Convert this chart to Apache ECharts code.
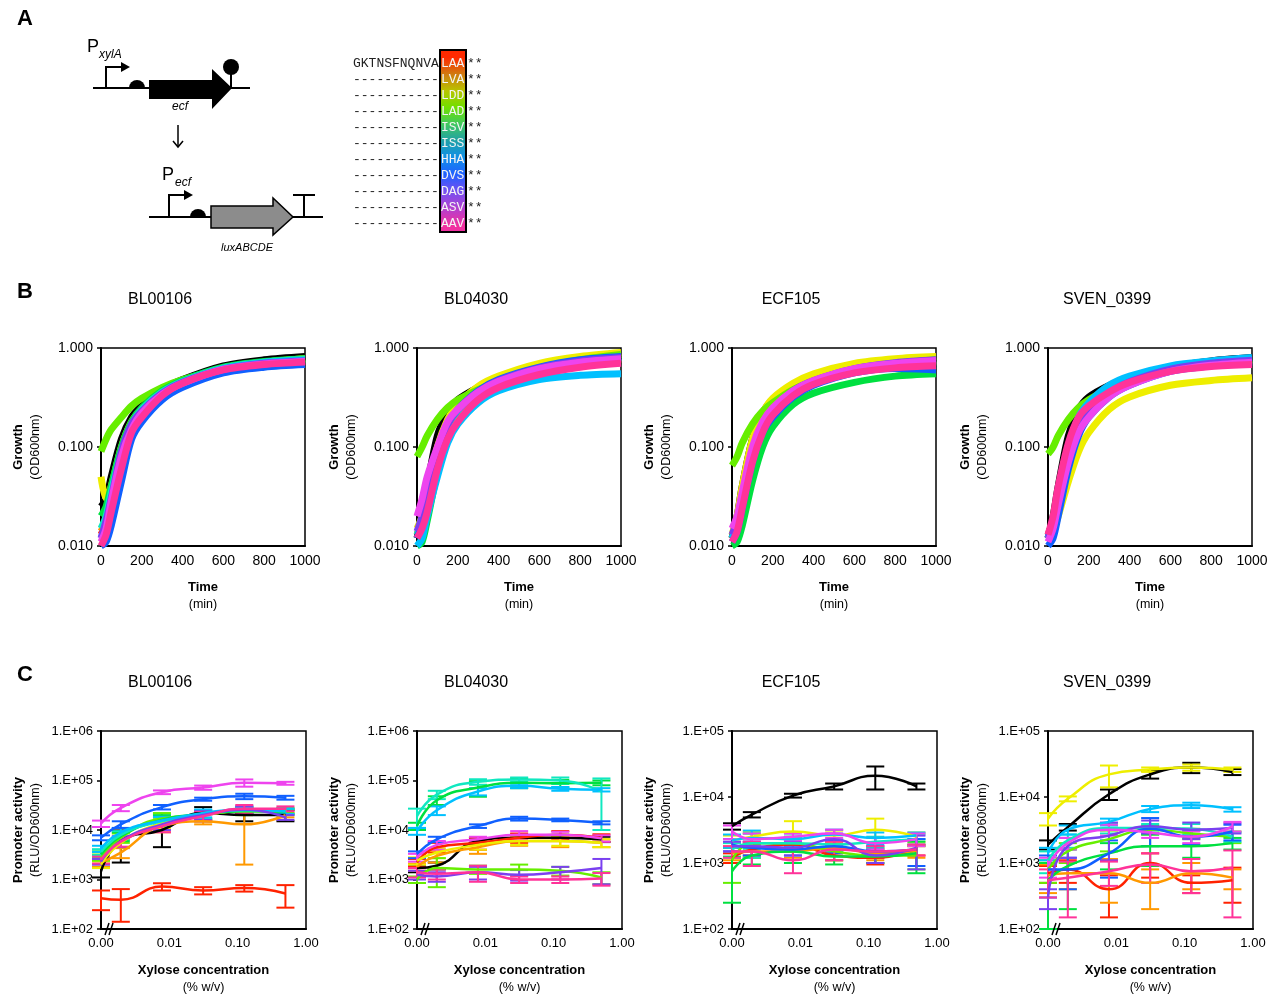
<!DOCTYPE html>
<html>
<head>
<meta charset="utf-8">
<script src="https://cdn.jsdelivr.net/npm/echarts@6/dist/echarts.min.js"></script>
<style>
html, body { margin: 0; padding: 0; background: #fff; }
#main { width: 1273px; height: 996px; }
</style>
</head>
<body>
<div id="main"></div>
<script>
// ---- data ----
var variants = ['none', 'LAA', 'LVA', 'LDD', 'LAD', 'ISV', 'ISS', 'HHA', 'DVS', 'DAG', 'ASV', 'AAV'];
var colors = ['#000000', '#ff2200', '#ff9900', '#eeee00', '#66ee00', '#00e040', '#10e8c0', '#00c0ff', '#1060ff', '#7a40f0', '#ee44ee', '#ff3399'];
var sigmas = ['BL00106', 'BL04030', 'ECF105', 'SVEN_0399'];
var tags = ['LAA', 'LVA', 'LDD', 'LAD', 'ISV', 'ISS', 'HHA', 'DVS', 'DAG', 'ASV', 'AAV'];
var tagColors = ['#ff2a00', '#d07a10', '#b8c400', '#70e000', '#40c860', '#20a0a8', '#1090e8', '#2060ff', '#7450f0', '#b040d0', '#f030a0'];

// growth curves (OD600), time in min
var tGrowth = [0, 25, 50, 100, 150, 200, 300, 400, 600, 800, 1000];
var growthBL00106 = [
  [0.025, 0.03, 0.05, 0.12, 0.2, 0.26, 0.38, 0.48, 0.66, 0.76, 0.82],
  [0.013, 0.017, 0.03, 0.085, 0.16, 0.22, 0.35, 0.45, 0.62, 0.7, 0.74],
  [0.014, 0.018, 0.032, 0.088, 0.165, 0.225, 0.355, 0.455, 0.62, 0.71, 0.75],
  [0.05, 0.03, 0.04, 0.1, 0.18, 0.24, 0.36, 0.46, 0.63, 0.72, 0.78],
  [0.09, 0.12, 0.15, 0.2, 0.26, 0.31, 0.4, 0.48, 0.62, 0.72, 0.78],
  [0.02, 0.025, 0.04, 0.1, 0.18, 0.25, 0.37, 0.47, 0.64, 0.73, 0.78],
  [0.015, 0.02, 0.035, 0.09, 0.17, 0.24, 0.36, 0.46, 0.63, 0.72, 0.77],
  [0.012, 0.016, 0.03, 0.08, 0.16, 0.23, 0.35, 0.45, 0.62, 0.71, 0.75],
  [0.010, 0.011, 0.016, 0.045, 0.12, 0.18, 0.3, 0.4, 0.56, 0.64, 0.68],
  [0.012, 0.018, 0.03, 0.09, 0.17, 0.23, 0.35, 0.45, 0.61, 0.7, 0.74],
  [0.011, 0.015, 0.028, 0.08, 0.15, 0.22, 0.34, 0.44, 0.61, 0.69, 0.73],
  [0.010, 0.013, 0.022, 0.06, 0.14, 0.2, 0.33, 0.44, 0.6, 0.68, 0.72]
];
var growthBL04030 = [
  [0.012, 0.02, 0.04, 0.13, 0.22, 0.3, 0.4, 0.5, 0.66, 0.78, 0.84],
  [0.013, 0.018, 0.032, 0.085, 0.165, 0.235, 0.355, 0.46, 0.62, 0.72, 0.78],
  [0.013, 0.017, 0.03, 0.08, 0.16, 0.23, 0.35, 0.45, 0.61, 0.71, 0.76],
  [0.015, 0.02, 0.035, 0.1, 0.19, 0.27, 0.41, 0.52, 0.7, 0.82, 0.9],
  [0.08, 0.1, 0.13, 0.19, 0.25, 0.3, 0.38, 0.46, 0.62, 0.76, 0.86],
  [0.01, 0.011, 0.018, 0.055, 0.12, 0.19, 0.32, 0.43, 0.6, 0.72, 0.8],
  [0.013, 0.018, 0.03, 0.085, 0.16, 0.23, 0.35, 0.46, 0.62, 0.74, 0.8],
  [0.01, 0.012, 0.02, 0.05, 0.11, 0.17, 0.28, 0.37, 0.48, 0.53, 0.55],
  [0.012, 0.017, 0.03, 0.09, 0.17, 0.24, 0.37, 0.48, 0.64, 0.76, 0.82],
  [0.014, 0.02, 0.035, 0.09, 0.17, 0.24, 0.36, 0.47, 0.63, 0.74, 0.8],
  [0.02, 0.03, 0.05, 0.1, 0.18, 0.24, 0.36, 0.46, 0.62, 0.72, 0.78],
  [0.012, 0.015, 0.022, 0.06, 0.12, 0.18, 0.3, 0.4, 0.54, 0.64, 0.7]
];
var growthECF105 = [
  [0.012, 0.02, 0.04, 0.12, 0.22, 0.3, 0.4, 0.5, 0.64, 0.72, 0.78],
  [0.012, 0.017, 0.03, 0.085, 0.16, 0.23, 0.35, 0.45, 0.6, 0.69, 0.73],
  [0.012, 0.016, 0.029, 0.082, 0.16, 0.225, 0.35, 0.45, 0.6, 0.68, 0.72],
  [0.013, 0.02, 0.04, 0.12, 0.22, 0.31, 0.44, 0.55, 0.7, 0.78, 0.82],
  [0.065, 0.08, 0.11, 0.17, 0.23, 0.28, 0.38, 0.46, 0.6, 0.7, 0.76],
  [0.01, 0.011, 0.016, 0.045, 0.1, 0.16, 0.27, 0.35, 0.45, 0.52, 0.55],
  [0.012, 0.017, 0.03, 0.085, 0.165, 0.23, 0.36, 0.46, 0.61, 0.7, 0.74],
  [0.012, 0.016, 0.028, 0.08, 0.16, 0.22, 0.35, 0.45, 0.6, 0.68, 0.72],
  [0.011, 0.014, 0.024, 0.07, 0.14, 0.2, 0.32, 0.42, 0.56, 0.62, 0.6],
  [0.013, 0.018, 0.032, 0.09, 0.17, 0.24, 0.37, 0.47, 0.62, 0.71, 0.76],
  [0.015, 0.02, 0.035, 0.1, 0.18, 0.25, 0.37, 0.47, 0.62, 0.7, 0.75],
  [0.011, 0.014, 0.024, 0.07, 0.14, 0.21, 0.33, 0.43, 0.56, 0.63, 0.66]
];
var growthSVEN0399 = [
  [0.012, 0.02, 0.04, 0.13, 0.24, 0.32, 0.42, 0.5, 0.64, 0.74, 0.8],
  [0.013, 0.018, 0.032, 0.09, 0.17, 0.24, 0.36, 0.46, 0.62, 0.71, 0.76],
  [0.012, 0.017, 0.03, 0.085, 0.165, 0.235, 0.355, 0.455, 0.61, 0.7, 0.75],
  [0.012, 0.014, 0.02, 0.045, 0.09, 0.14, 0.24, 0.32, 0.42, 0.47, 0.5],
  [0.085, 0.1, 0.13, 0.19, 0.25, 0.3, 0.39, 0.47, 0.6, 0.7, 0.76],
  [0.012, 0.016, 0.028, 0.08, 0.16, 0.23, 0.35, 0.45, 0.6, 0.7, 0.76],
  [0.012, 0.017, 0.03, 0.085, 0.17, 0.24, 0.36, 0.46, 0.61, 0.71, 0.76],
  [0.012, 0.018, 0.032, 0.1, 0.2, 0.28, 0.42, 0.52, 0.66, 0.74, 0.8],
  [0.01, 0.012, 0.02, 0.06, 0.13, 0.2, 0.32, 0.42, 0.58, 0.66, 0.72],
  [0.012, 0.017, 0.03, 0.085, 0.165, 0.235, 0.355, 0.455, 0.61, 0.7, 0.75],
  [0.011, 0.015, 0.026, 0.07, 0.14, 0.2, 0.32, 0.42, 0.58, 0.67, 0.72],
  [0.013, 0.02, 0.04, 0.11, 0.2, 0.26, 0.36, 0.45, 0.58, 0.65, 0.68]
];

// promoter activity (RLU/OD600), xylose % w/v (0 plotted at 0.001)
var xylose = [0.001, 0.00195, 0.0078, 0.03125, 0.125, 0.5];
var actBL00106 = [
  [1450, 6000, 10000, 22000, 20000, 20000],
  [420, 390, 720, 600, 670, 520],
  [2200, 3500, 12000, 15000, 13000, 20000],
  [2000, 5500, 14000, 20000, 24000, 24000],
  [2800, 7000, 17000, 20000, 25000, 25000],
  [3200, 7500, 16000, 21000, 24000, 23000],
  [3600, 8000, 15000, 21000, 25000, 24000],
  [4200, 9000, 15500, 22000, 26000, 24000],
  [7000, 13000, 29000, 42000, 48000, 45000],
  [2300, 6000, 13000, 20000, 26000, 18000],
  [13500, 28000, 58000, 72000, 90000, 88000],
  [2500, 5800, 12000, 19000, 27000, 27000]
];
var errBL00106 = [
  [350, 3800, 5500, 7000, 5000, 5000],
  [180, 250, 120, 100, 100, 250],
  [400, 800, 3000, 2000, 11000, 2000],
  [300, 1000, 3000, 4000, 4000, 3000],
  [400, 1500, 5000, 4000, 4000, 3000],
  [500, 1500, 4000, 4000, 4000, 3000],
  [500, 1500, 3000, 4000, 4000, 3000],
  [600, 2000, 3000, 4000, 4000, 3000],
  [800, 2000, 3000, 3000, 6000, 4000],
  [300, 1500, 3000, 4000, 4000, 2000],
  [2000, 4000, 5000, 7000, 15000, 6000],
  [400, 1200, 3000, 4000, 5000, 3000]
];
var actBL04030 = [
  [1700, 1900, 6000, 7000, 7000, 6500],
  [2200, 4500, 5500, 7000, 8000, 7000],
  [1800, 3000, 4500, 6000, 6000, 5500],
  [2400, 3500, 5000, 6000, 6000, 5500],
  [1000, 1700, 1600, 1600, 1500, 1100],
  [12000, 40000, 72000, 90000, 88000, 90000],
  [19000, 52000, 94000, 105000, 100000, 60000],
  [9500, 25000, 60000, 78000, 68000, 65000],
  [3200, 6500, 12000, 17000, 16000, 14000],
  [1250, 1150, 1400, 1250, 1400, 1700],
  [2800, 5000, 6500, 8000, 8000, 6800],
  [1400, 1300, 1400, 1000, 1000, 1050]
];
var errBL04030 = [
  [300, 300, 1000, 1000, 1000, 800],
  [400, 1000, 1500, 1500, 1500, 1200],
  [300, 800, 1200, 1200, 1500, 1000],
  [400, 800, 1000, 1000, 1200, 1000],
  [150, 1000, 300, 400, 300, 300],
  [2000, 8000, 25000, 20000, 15000, 10000],
  [8000, 10000, 12000, 10000, 15000, 50000],
  [1500, 5000, 10000, 8000, 6000, 5000],
  [500, 800, 1000, 1500, 1000, 1000],
  [250, 250, 400, 300, 400, 900],
  [500, 1000, 800, 1500, 1200, 1000],
  [300, 300, 500, 150, 150, 300]
];
var actECF105 = [
  [3600, 5400, 10500, 14500, 21000, 14500],
  [1200, 1600, 1900, 1300, 1200, 1600],
  [1400, 1500, 1500, 1700, 1400, 1500],
  [2200, 2500, 3000, 2600, 3200, 2500],
  [1100, 2000, 2000, 1500, 1300, 1300],
  [750, 1300, 1500, 1250, 1250, 1400],
  [1600, 2000, 2000, 1900, 2100, 2300],
  [2200, 2400, 2300, 2700, 2400, 2600],
  [1900, 1700, 1600, 1800, 1500, 1600],
  [1800, 1800, 1700, 2300, 1300, 1700],
  [3000, 2300, 2500, 2800, 2000, 2300],
  [1500, 1500, 1100, 1600, 1500, 1600]
];
var errECF105 = [
  [400, 500, 700, 1500, 8000, 1500],
  [200, 300, 300, 200, 250, 300],
  [300, 300, 300, 300, 300, 300],
  [400, 500, 1300, 500, 1500, 400],
  [600, 800, 500, 400, 300, 500],
  [500, 350, 500, 300, 250, 700],
  [400, 800, 500, 400, 400, 400],
  [500, 700, 500, 500, 500, 300],
  [400, 400, 300, 400, 300, 700],
  [300, 300, 400, 500, 300, 900],
  [700, 500, 300, 400, 400, 500],
  [300, 600, 400, 500, 300, 300]
];
var actSVEN0399 = [
  [1900, 3500, 11000, 22000, 28000, 24000],
  [700, 800, 400, 1000, 500, 550],
  [650, 700, 700, 500, 700, 600],
  [4700, 9400, 22000, 26000, 28000, 26000],
  [800, 1500, 2300, 3200, 2800, 2500],
  [550, 900, 1400, 1800, 1800, 2000],
  [1100, 2200, 3400, 3400, 3300, 2500],
  [1400, 3200, 4200, 6600, 7500, 6500],
  [800, 800, 1400, 3300, 2500, 3000],
  [300, 1800, 2600, 3600, 3200, 3400],
  [900, 2000, 3200, 2900, 2500, 3600],
  [550, 600, 750, 950, 750, 850]
];
var errSVEN0399 = [
  [300, 400, 2000, 3000, 5000, 2500],
  [200, 300, 250, 400, 150, 300],
  [300, 300, 450, 300, 300, 200],
  [1000, 800, 8000, 2000, 3000, 2000],
  [300, 500, 800, 500, 500, 500],
  [450, 700, 600, 900, 600, 400],
  [400, 500, 600, 500, 600, 400],
  [300, 500, 500, 700, 700, 500],
  [500, 400, 800, 1500, 600, 800],
  [100, 600, 1500, 800, 900, 600],
  [300, 400, 600, 500, 500, 600],
  [250, 450, 300, 450, 400, 700]
];
var actMax = [1e6, 1e6, 1e5, 1e5];

var growthSets = [growthBL00106, growthBL04030, growthECF105, growthSVEN0399];
var actSets = [actBL00106, actBL04030, actECF105, actSVEN0399];
var errSets = [errBL00106, errBL04030, errECF105, errSVEN0399];

// ---- layout ----
var FONT = 'Liberation Sans, Arial, sans-serif';
var lefts = [101, 417, 732, 1048];
var chart = echarts.init(document.getElementById('main'), null, { renderer: 'canvas' });

var grids = [], xAxes = [], yAxes = [], series = [], graphics = [];

function nameRich() {
  return {
    b: { fontFamily: FONT, fontWeight: 'bold', fontSize: 13, color: '#000', lineHeight: 17 },
    n: { fontFamily: FONT, fontSize: 12.5, color: '#000', lineHeight: 17 }
  };
}

function expLabel(v) {
  var e = Math.round(Math.log10(v));
  return '1.E+' + (e < 10 ? '0' : '') + e;
}

function errorBars(color, minY) {
  return function (params, api) {
    var x = api.value(0);
    var lo = Math.max(api.value(1), minY);
    var p1 = api.coord([x, lo]);
    var p2 = api.coord([x, api.value(2)]);
    var w = 9;
    var st = { stroke: color, lineWidth: 2 };
    return {
      type: 'group',
      children: [
        { type: 'line', shape: { x1: p1[0], y1: p1[1], x2: p2[0], y2: p2[1] }, style: st },
        { type: 'line', shape: { x1: p1[0] - w, y1: p1[1], x2: p1[0] + w, y2: p1[1] }, style: st },
        { type: 'line', shape: { x1: p2[0] - w, y1: p2[1], x2: p2[0] + w, y2: p2[1] }, style: st }
      ]
    };
  };
}

var axisLineStyle = { show: true, onZero: false, lineStyle: { color: '#000', width: 2 } };

for (var i = 0; i < 4; i++) {
  // panel B: growth
  grids.push({ left: lefts[i], top: 348, width: 204, height: 198, show: true, borderColor: '#000', borderWidth: 1.5 });
  xAxes.push({
    type: 'value', gridIndex: i, min: 0, max: 1000, interval: 200,
    axisLine: axisLineStyle, axisTick: { show: false }, splitLine: { show: false },
    axisLabel: { color: '#000', fontSize: 14, fontFamily: FONT, margin: 8, formatter: function (v) { return String(v); } },
    name: '{b|Time}\n{n|(min)}', nameLocation: 'middle', nameGap: 33,
    nameTextStyle: { rich: nameRich() }
  });
  yAxes.push({
    type: 'log', logBase: 10, gridIndex: i, min: 0.01, max: 1,
    axisLine: axisLineStyle, axisTick: { show: true, length: 4, lineStyle: { color: '#000', width: 1.5 } },
    splitLine: { show: false }, minorTick: { show: false },
    axisLabel: { color: '#000', fontSize: 14, fontFamily: FONT, margin: 8, formatter: function (v) { return v.toFixed(3); } },
    name: '{b|Growth}\n{n|(OD600nm)}', nameLocation: 'middle', nameRotate: 90, nameGap: 57,
    nameTextStyle: { rich: nameRich() }
  });
  var gset = growthSets[i];
  for (var s = 0; s < gset.length; s++) {
    series.push({
      type: 'line', xAxisIndex: i, yAxisIndex: i, name: variants[s],
      data: tGrowth.map(function (t, k) { return [t, this[k]]; }, gset[s]),
      showSymbol: false, smooth: 0.3, silent: true,
      lineStyle: { color: colors[s], width: 7 }, itemStyle: { color: colors[s] }
    });
  }
}

for (var j = 0; j < 4; j++) {
  var gi = 4 + j;
  grids.push({ left: lefts[j], top: 731, width: 205, height: 198, show: true, borderColor: '#000', borderWidth: 1.5 });
  xAxes.push({
    type: 'log', logBase: 10, gridIndex: gi, min: 0.001, max: 1,
    axisLine: axisLineStyle, axisTick: { show: false }, splitLine: { show: false }, minorTick: { show: false },
    axisLabel: { color: '#000', fontSize: 13, fontFamily: FONT, margin: 8, formatter: function (v) { return v.toFixed(2); } },
    name: '{b|Xylose concentration}\n{n|(% w/v)}', nameLocation: 'middle', nameGap: 33,
    nameTextStyle: { rich: nameRich() }
  });
  yAxes.push({
    type: 'log', logBase: 10, gridIndex: gi, min: 100, max: actMax[j],
    axisLine: axisLineStyle, axisTick: { show: true, length: 4, lineStyle: { color: '#000', width: 1.5 } },
    splitLine: { show: false }, minorTick: { show: false },
    axisLabel: { color: '#000', fontSize: 13, fontFamily: FONT, margin: 8, formatter: expLabel },
    name: '{b|Promoter activity}\n{n|(RLU/OD600nm)}', nameLocation: 'middle', nameRotate: 90, nameGap: 57,
    nameTextStyle: { rich: nameRich() }
  });
  var aset = actSets[j], eset = errSets[j];
  for (var q = 0; q < aset.length; q++) {
    series.push({
      type: 'custom', xAxisIndex: gi, yAxisIndex: gi, silent: true, clip: false,
      renderItem: errorBars(colors[q], 100),
      encode: { x: 0, y: [1, 2] },
      data: xylose.map(function (x, k) { return [x, this.m[k] - this.e[k], this.m[k] + this.e[k]]; }, { m: aset[q], e: eset[q] })
    });
    series.push({
      type: 'line', xAxisIndex: gi, yAxisIndex: gi, name: variants[q],
      data: xylose.map(function (x, k) { return [x, this[k]]; }, aset[q]),
      showSymbol: false, smooth: true, silent: true,
      lineStyle: { color: colors[q], width: 2.5 }, itemStyle: { color: colors[q] }
    });
  }
  // axis break marks
  graphics.push({ type: 'line', z: 100, shape: { x1: lefts[j] + 4, y1: 935, x2: lefts[j] + 8, y2: 923 }, style: { stroke: '#000', lineWidth: 1.5 } });
  graphics.push({ type: 'line', z: 100, shape: { x1: lefts[j] + 8, y1: 935, x2: lefts[j] + 12, y2: 923 }, style: { stroke: '#000', lineWidth: 1.5 } });
}

// panel letters and titles
function txt(x, y, text, size, extra) {
  var st = { text: text, x: x, y: y, fontFamily: FONT, fontSize: size, fill: '#000', align: 'center', verticalAlign: 'middle' };
  for (var k in (extra || {})) st[k] = extra[k];
  return { type: 'text', z: 100, style: st };
}
graphics.push(txt(25, 19, 'A', 22, { fontWeight: 'bold' }));
graphics.push(txt(25, 292, 'B', 22, { fontWeight: 'bold' }));
graphics.push(txt(25, 675, 'C', 22, { fontWeight: 'bold' }));
var titleX = [160, 476, 791, 1107];
sigmas.forEach(function (name, k) {
  graphics.push(txt(titleX[k], 300, name, 16));
  graphics.push(txt(titleX[k], 683, name, 16));
});

// panel A: gene circuit
var blk = { stroke: '#000', lineWidth: 2 };
graphics.push({ type: 'line', shape: { x1: 93, y1: 88, x2: 250, y2: 88 }, style: blk });
graphics.push({ type: 'polyline', shape: { points: [[106, 88], [106, 67], [122, 67]] }, style: { stroke: '#000', lineWidth: 2, fill: null } });
graphics.push({ type: 'polygon', shape: { points: [[121, 62], [130, 67], [121, 72]] }, style: { fill: '#000' } });
graphics.push({ type: 'sector', shape: { cx: 137, cy: 88, r: 8, startAngle: Math.PI, endAngle: 2 * Math.PI }, style: { fill: '#000' } });
graphics.push({ type: 'polygon', shape: { points: [[149, 80], [212, 80], [212, 69], [232, 88], [212, 109], [212, 99], [149, 99]] }, style: { fill: '#000' } });
graphics.push({ type: 'line', shape: { x1: 231, y1: 88, x2: 231, y2: 70 }, style: blk });
graphics.push({ type: 'circle', shape: { cx: 231, cy: 67, r: 8 }, style: { fill: '#000' } });
graphics.push(txt(93, 47, 'P', 18, { align: 'center' }));
graphics.push(txt(99, 55, 'xylA', 12, { align: 'left', fontStyle: 'italic' }));
graphics.push(txt(180, 107, 'ecf', 12, { fontStyle: 'italic' }));
graphics.push({ type: 'line', shape: { x1: 178, y1: 125, x2: 178, y2: 146 }, style: { stroke: '#000', lineWidth: 1.5 } });
graphics.push({ type: 'polyline', shape: { points: [[173, 141], [178, 147], [183, 141]] }, style: { stroke: '#000', lineWidth: 1.5, fill: null } });

graphics.push({ type: 'line', shape: { x1: 149, y1: 217, x2: 323, y2: 217 }, style: blk });
graphics.push({ type: 'polyline', shape: { points: [[169, 217], [169, 195], [185, 195]] }, style: { stroke: '#000', lineWidth: 2, fill: null } });
graphics.push({ type: 'polygon', shape: { points: [[184, 190], [193, 195], [184, 200]] }, style: { fill: '#000' } });
graphics.push({ type: 'sector', shape: { cx: 198, cy: 217, r: 8, startAngle: Math.PI, endAngle: 2 * Math.PI }, style: { fill: '#000' } });
graphics.push({ type: 'polygon', shape: { points: [[211, 206], [273, 206], [273, 198], [293, 217], [273, 235], [273, 228], [211, 228]] }, style: { fill: '#8c8c8c', stroke: '#000', lineWidth: 1.5 } });
graphics.push({ type: 'line', shape: { x1: 304, y1: 217, x2: 304, y2: 195 }, style: blk });
graphics.push({ type: 'line', shape: { x1: 293, y1: 195, x2: 315, y2: 195 }, style: blk });
graphics.push(txt(168, 175, 'P', 18));
graphics.push(txt(175, 183, 'ecf', 12, { align: 'left', fontStyle: 'italic' }));
graphics.push(txt(247, 248, 'luxABCDE', 11, { fontStyle: 'italic' }));

// panel A: degradation tag alignment
var stops = tagColors.map(function (c, k) { return { offset: (k + 0.5) / tagColors.length, color: c }; });
graphics.push({
  type: 'rect', z: 10, shape: { x: 440, y: 50, width: 26, height: 182 },
  style: { fill: new echarts.graphic.LinearGradient(0, 0, 0, 1, stops), stroke: '#000', lineWidth: 2 }
});
var MONO = 'Liberation Mono, DejaVu Sans Mono, monospace';
tags.forEach(function (tag, k) {
  var y = 64 + 16 * k;
  graphics.push({ type: 'text', z: 20, style: { text: k === 0 ? 'GKTNSFNQNVA' : '-----------', x: 353, y: y, fontFamily: MONO, fontSize: 13, fill: '#222', verticalAlign: 'middle' } });
  graphics.push({ type: 'text', z: 20, style: { text: tag, x: 441, y: y, fontFamily: MONO, fontSize: 13, fill: '#f4f4f4', verticalAlign: 'middle' } });
  graphics.push({ type: 'text', z: 20, style: { text: '**', x: 467, y: y, fontFamily: MONO, fontSize: 13, fill: '#222', verticalAlign: 'middle' } });
});

chart.setOption({
  animation: false,
  backgroundColor: '#fff',
  grid: grids,
  xAxis: xAxes,
  yAxis: yAxes,
  series: series,
  graphic: graphics
});
</script>
</body>
</html>
